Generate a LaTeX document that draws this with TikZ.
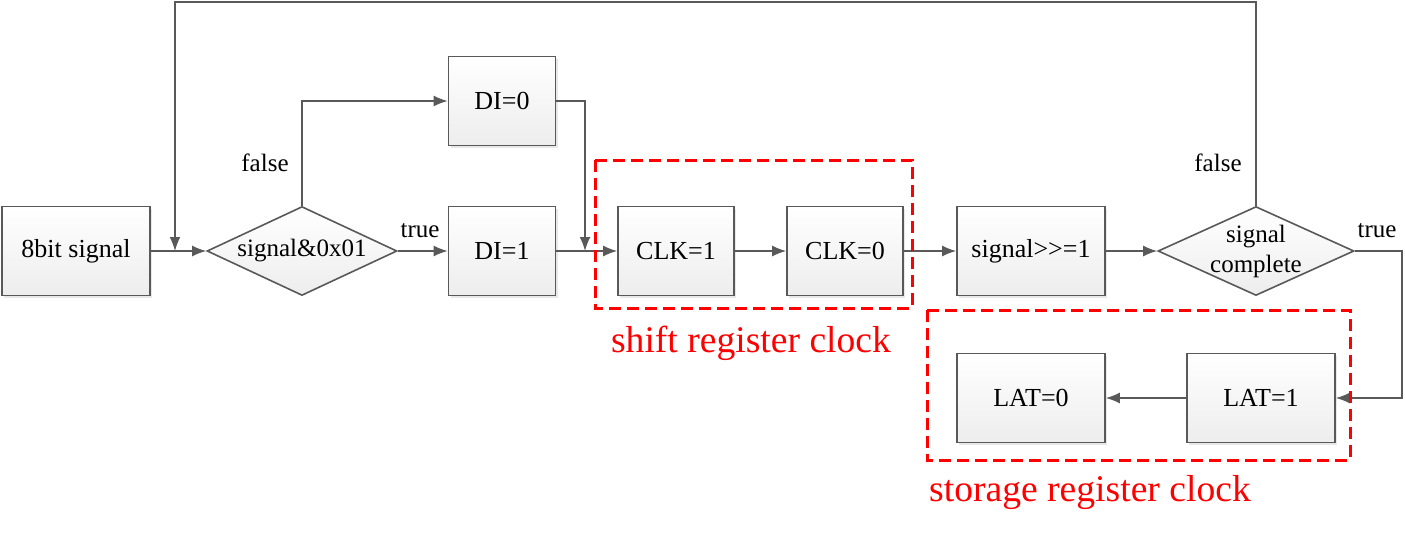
\documentclass[tikz,border=0pt]{standalone}
\usepackage{fontspec}
\setmainfont{Liberation Serif}
\usetikzlibrary{arrows.meta,shapes.geometric,shadows}
\definecolor{lineg}{HTML}{595959}
\tikzset{
  flow/.style={draw=lineg, line width=0.8pt, -{Latex[length=7pt,width=5.5pt]}},
  line/.style={draw=lineg, line width=0.8pt},
  box/.style={draw=lineg, line width=0.8pt, top color=white, bottom color=gray!14,
    drop shadow={opacity=0.18, shadow xshift=1pt, shadow yshift=-1pt},
    minimum height=44.5pt, inner sep=0pt, font=\fontsize{13}{15}\selectfont},
  test/.style={diamond, aspect=2.2, draw=lineg, line width=0.8pt, top color=white, bottom color=gray!14,
    minimum width=95pt, minimum height=44.5pt, inner sep=0pt, align=center},
  branch/.style={font=\fontsize{12.5}{14}\selectfont},
  clkgroup/.style={draw=red, line width=1.5pt, dash pattern=on 6pt off 3pt},
  grouptext/.style={text=red, font=\fontsize{18.8}{21}\selectfont}
}
\begin{document}
\begin{tikzpicture}[x=0.5pt,y=-0.5pt]
    \useasboundingbox[fill=white] (0,0) rectangle (1405,537);

    % main row
    \node[box, minimum width=74pt] (sig) at (76,251) {8bit signal};
    \node[test, font=\fontsize{12.5}{14}\selectfont] (chk) at (302,251) {signal\&0x01};
    \node[box, minimum width=53.5pt] (di0) at (502,101) {DI=0};
    \node[box, minimum width=53.5pt] (di1) at (502,251) {DI=1};
    \node[box, minimum width=58pt] (clk1) at (676,251) {CLK=1};
    \node[box, minimum width=58pt] (clk0) at (845,251) {CLK=0};
    \node[box, minimum width=74pt] (shr) at (1031,251) {signal>{}>=1};
    \node[test, inner sep=-6pt, minimum width=98pt, font=\fontsize{12.5}{15}\selectfont] (done) at (1256,251) {signal\\complete}; % neg. sep keeps it 98pt
    \node[box, minimum width=74pt] (lat1) at (1261,398) {LAT=1};
    \node[box, minimum width=74pt] (lat0) at (1031,398) {LAT=0};

    % bends
    \coordinate (loop) at (175,251);
    \coordinate (merge) at (585,251);
    \coordinate (top) at (1256,2);
    \coordinate (rgt) at (1402,251);

    \draw[flow] (sig) -- (chk);
    \draw[flow] (chk) -- (di1);
    \draw[flow] (chk.north) |- (di0);
    \draw[flow] (di0.east) -| (merge);
    \draw[flow] (di1) -- (clk1);
    \draw[flow] (clk1) -- (clk0);
    \draw[flow] (clk0) -- (shr);
    \draw[flow] (shr) -- (done);
    \draw[flow] (done.north) -- (top) -| (loop); % back to the test
    \draw[flow] (done.east) -- (rgt) |- (lat1);
    \draw[flow] (lat1) -- (lat0);

    \node[branch] (f1) at (265,163) {false};
    \node[branch] (t1) at (420,231) {true};
    \node[branch] (f2) at (1218,163) {false};
    \node[branch] (t2) at (1377,231) {true};

    % register groups
    \draw[clkgroup] (595,160) rectangle (912,308);
    \node[grouptext] (shl) at (751,343) {shift register clock};
    \draw[clkgroup] (927,310) rectangle (1350,460);
    \node[grouptext] (stl) at (1090,493) {storage register clock};
\end{tikzpicture}
\end{document}
